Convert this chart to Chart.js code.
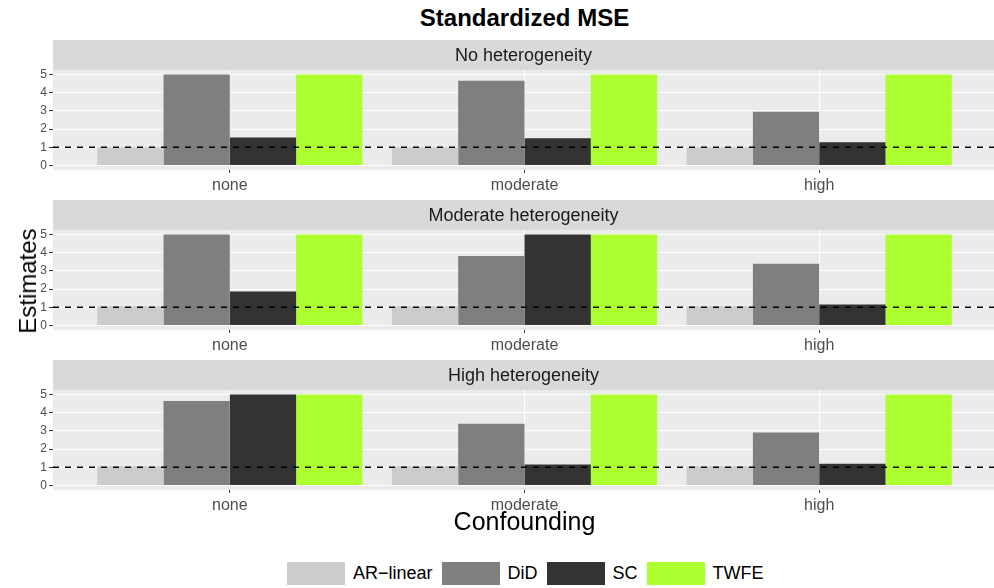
<!DOCTYPE html>
<html>
<head>
<meta charset="utf-8">
<script src="https://cdn.jsdelivr.net/npm/chart.js@4"></script>
<style>
    html, body { margin: 0; padding: 0; background: #fff; overflow: hidden; }
    body { width: 994px; height: 588px; position: relative; font-family: "Liberation Sans", Arial, sans-serif; }
    .panel { position: absolute; left: 0; }
    .title { position: absolute; left: 53px; width: 943px; top: 4px; text-align: center; font-weight: bold; font-size: 24px; color: #000; }
    .xlab { position: absolute; left: 53px; width: 943px; top: 507px; text-align: center; font-size: 25px; color: #000; }
    .ylab { position: absolute; left: 28px; top: 281px; transform: translate(-50%, -50%) rotate(-90deg); font-size: 24px; color: #000; white-space: nowrap; }
    .legend { position: absolute; left: 287px; top: 562px; height: 23px; display: flex; align-items: center; font-size: 18px; color: #000; }
    .legend .key { width: 58px; height: 23px; margin-right: 8px; }
    .legend .item { display: flex; align-items: center; margin-right: 9px; }
</style>
</head>
<body>
<div class="title">Standardized MSE</div>
<canvas id="panel-0" class="panel" width="996" height="160" style="top:40px"></canvas>
<canvas id="panel-1" class="panel" width="996" height="160" style="top:200px"></canvas>
<canvas id="panel-2" class="panel" width="996" height="160" style="top:360px"></canvas>
<div class="ylab">Estimates</div>
<div class="xlab">Confounding</div>
<div class="legend" id="legend"></div>

<script>
const categories = ['none', 'moderate', 'high'];
const seriesNames = ['AR\u2212linear', 'DiD', 'SC', 'TWFE'];
const seriesColors = ['#CCCCCC', '#7F7F7F', '#333333', '#ADFF2F'];
const panelTitles = ['No heterogeneity', 'Moderate heterogeneity', 'High heterogeneity'];
const yTicks = [0, 1, 2, 3, 4, 5];
const refLine = 1;

// one row per series (AR-linear, DiD, SC, TWFE), one value per confounding level
const noHeterogeneity = [
    [1.0, 1.0, 1.0],
    [5, 4.66, 2.96],
    [1.54, 1.49, 1.27],
    [5, 5, 5]
];
const moderateHeterogeneity = [
    [1.05, 1.05, 1.05],
    [5, 3.82, 3.40],
    [1.87, 5, 1.15],
    [5, 5, 5]
];
const highHeterogeneity = [
    [1.05, 1.05, 1.05],
    [4.64, 3.40, 2.91],
    [5, 1.15, 1.20],
    [5, 5, 5]
];
const panelValues = [noHeterogeneity, moderateHeterogeneity, highHeterogeneity];

const panelPlugin = {
    id: 'facetPanel',
    beforeDraw: (chart, args, opts) => {
        const { ctx, chartArea } = chart;
        ctx.save();
        ctx.fillStyle = '#EBEBEB';
        ctx.fillRect(chartArea.left, chartArea.top, chartArea.right - chartArea.left, chartArea.bottom - chartArea.top);
        ctx.fillStyle = '#D9D9D9';
        ctx.fillRect(chartArea.left, 0, chartArea.right - chartArea.left, chartArea.top);
        ctx.fillStyle = '#1A1A1A';
        ctx.font = '18px "Liberation Sans", Arial, sans-serif';
        ctx.textAlign = 'center';
        ctx.textBaseline = 'middle';
        ctx.fillText(opts.text, (chartArea.left + 994) / 2, chartArea.top / 2 + 1);
        ctx.restore();
    },
    afterDatasetsDraw: (chart) => {
        const { ctx, chartArea, scales } = chart;
        const y = scales.y.getPixelForValue(refLine);
        ctx.save();
        ctx.strokeStyle = '#000';
        ctx.lineWidth = 1.4;
        ctx.setLineDash([6, 6]);
        ctx.beginPath();
        ctx.moveTo(chartArea.left, y);
        ctx.lineTo(chartArea.right, y);
        ctx.stroke();
        ctx.restore();
    }
};

const createPanel = (index) => {
    const values = panelValues[index];
    const ctx = document.getElementById('panel-' + index).getContext('2d');

    new Chart(ctx, {
        type: 'bar',
        data: {
            datasets: seriesNames.map((name, s) => ({
                label: name,
                data: categories.map((c, i) => ({ x: i + 1, y: values[s][i] })),
                backgroundColor: seriesColors[s],
                borderWidth: 0
            }))
        },
        options: {
            responsive: false,
            animation: false,
            layout: { padding: { top: 30, left: 0, right: 0, bottom: 0 } },
            datasets: { bar: { categoryPercentage: 0.9, barPercentage: 1.0 } },
            plugins: {
                legend: { display: false },
                tooltip: { enabled: false },
                facetPanel: { text: panelTitles[index] }
            },
            scales: {
                x: {
                    type: 'linear',
                    min: 0.4,
                    max: 3.6,
                    offset: false,
                    afterBuildTicks: (scale) => {
                        scale.ticks = categories.map((c, i) => ({ value: i + 1 }));
                    },
                    afterFit: (scale) => { scale.height = 30; },
                    border: { display: false },
                    grid: { offset: false, color: '#FFFFFF', lineWidth: 1.1, tickColor: '#333333', tickLength: 3, tickWidth: 1 },
                    ticks: {
                        autoSkip: false,
                        maxRotation: 0,
                        padding: 3,
                        color: '#4D4D4D',
                        font: { family: '"Liberation Sans", Arial, sans-serif', size: 16 },
                        callback: (value) => categories[value - 1]
                    }
                },
                y: {
                    min: -0.25,
                    max: 5.25,
                    afterBuildTicks: (scale) => {
                        const ticks = [];
                        yTicks.forEach((t, i) => {
                            ticks.push({ value: t });
                            if (i < yTicks.length - 1) ticks.push({ value: t + 0.5 });
                        });
                        scale.ticks = ticks;
                    },
                    afterFit: (scale) => { scale.width = 53; },
                    border: { display: false },
                    grid: {
                        color: '#FFFFFF',
                        lineWidth: (c) => Number.isInteger(c.tick.value) ? 1.1 : 0.55,
                        tickColor: (c) => Number.isInteger(c.tick.value) ? '#333333' : 'rgba(0,0,0,0)',
                        tickLength: 4,
                        tickWidth: 1
                    },
                    ticks: {
                        padding: 2,
                        color: '#4D4D4D',
                        font: { family: '"Liberation Sans", Arial, sans-serif', size: 12 },
                        callback: (value) => Number.isInteger(value) ? value : ''
                    }
                }
            }
        },
        plugins: [panelPlugin]
    });
};

const buildLegend = () => {
    const box = document.getElementById('legend');
    seriesNames.forEach((name, s) => {
        const item = document.createElement('div');
        item.className = 'item';
        const key = document.createElement('div');
        key.className = 'key';
        key.style.background = seriesColors[s];
        const label = document.createElement('span');
        label.textContent = name;
        item.appendChild(key);
        item.appendChild(label);
        box.appendChild(item);
    });
};

document.addEventListener('DOMContentLoaded', function () {
    panelTitles.forEach((t, i) => createPanel(i));
    buildLegend();
});
</script>
</body>
</html>
